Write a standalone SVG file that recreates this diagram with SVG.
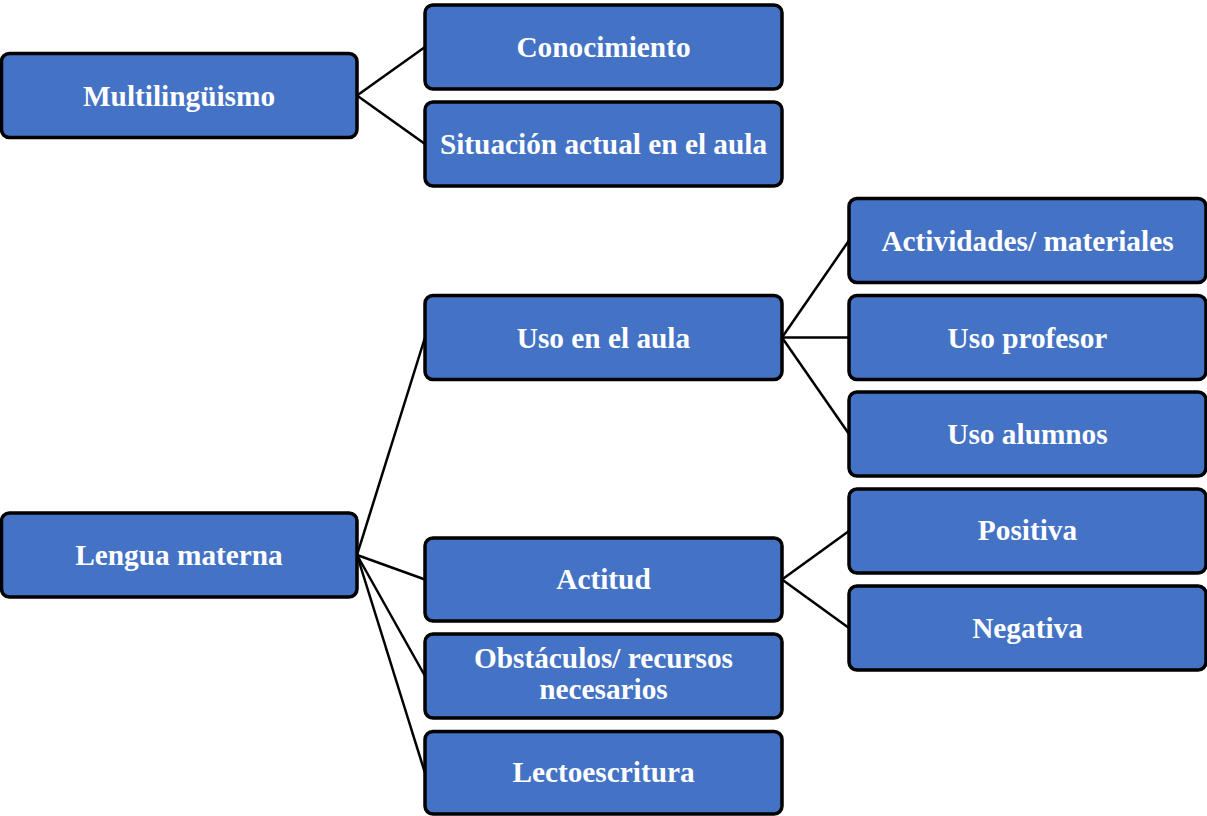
<svg xmlns="http://www.w3.org/2000/svg" width="1207" height="816" viewBox="0 0 1207 816">
<style>
.box{fill:#4472C4;stroke:#000;stroke-width:3.5}
.t{font-family:"Liberation Serif","Times New Roman",serif;font-weight:bold;font-size:29.3px;fill:#fff;text-anchor:middle}
.c{stroke:#000;stroke-width:2.5;fill:none}
</style>
<rect width="1207" height="816" fill="#fff"/>
<g id="connectors">
<line class="c" x1="357" y1="95.5" x2="425" y2="47"/>
<line class="c" x1="357" y1="95.5" x2="425" y2="144"/>
<line class="c" x1="782" y1="337.5" x2="849" y2="240.5"/>
<line class="c" x1="782" y1="337.5" x2="849" y2="337.5"/>
<line class="c" x1="782" y1="337.5" x2="849" y2="434"/>
<line class="c" x1="357" y1="555" x2="425" y2="337.5"/>
<line class="c" x1="357" y1="555" x2="425" y2="579.5"/>
<line class="c" x1="357" y1="555" x2="425" y2="676"/>
<line class="c" x1="357" y1="555" x2="425" y2="773"/>
<line class="c" x1="782" y1="579.5" x2="849" y2="531"/>
<line class="c" x1="782" y1="579.5" x2="849" y2="628"/>
</g>
<g id="multilinguismo"><rect class="box" x="1.5" y="53.5" width="355.5" height="84" rx="8"/><text class="t" x="179" y="105.5">Multilingüismo</text></g>
<g id="conocimiento"><rect class="box" x="425" y="5" width="357" height="84" rx="8"/><text class="t" x="603.5" y="57">Conocimiento</text></g>
<g id="situacion"><rect class="box" x="425" y="102" width="357" height="84" rx="8"/><text class="t" x="603.5" y="154">Situación actual en el aula</text></g>
<g id="uso-aula"><rect class="box" x="425" y="295.5" width="357" height="84" rx="8"/><text class="t" x="603.5" y="347.5">Uso en el aula</text></g>
<g id="actividades"><rect class="box" x="849" y="198.5" width="357" height="84" rx="8"/><text class="t" x="1027.5" y="250.5">Actividades/ materiales</text></g>
<g id="uso-profesor"><rect class="box" x="849" y="295.5" width="357" height="84" rx="8"/><text class="t" x="1027.5" y="347.5">Uso profesor</text></g>
<g id="uso-alumnos"><rect class="box" x="849" y="392" width="357" height="84" rx="8"/><text class="t" x="1027.5" y="444">Uso alumnos</text></g>
<g id="lengua-materna"><rect class="box" x="1.5" y="513" width="355.5" height="84" rx="8"/><text class="t" x="179" y="565">Lengua materna</text></g>
<g id="actitud"><rect class="box" x="425" y="538" width="357" height="83" rx="8"/><text class="t" x="603.5" y="589">Actitud</text></g>
<g id="positiva"><rect class="box" x="849" y="489" width="357" height="84" rx="8"/><text class="t" x="1027.5" y="540">Positiva</text></g>
<g id="negativa"><rect class="box" x="849" y="586" width="357" height="84" rx="8"/><text class="t" x="1027.5" y="638">Negativa</text></g>
<g id="obstaculos"><rect class="box" x="425" y="634" width="357" height="84" rx="8"/><text class="t" x="603.5" y="668">Obstáculos/ recursos</text><text class="t" x="603.5" y="699">necesarios</text></g>
<g id="lectoescritura"><rect class="box" x="425" y="731.5" width="357" height="82.5" rx="8"/><text class="t" x="603.5" y="782">Lectoescritura</text></g>
</svg>
